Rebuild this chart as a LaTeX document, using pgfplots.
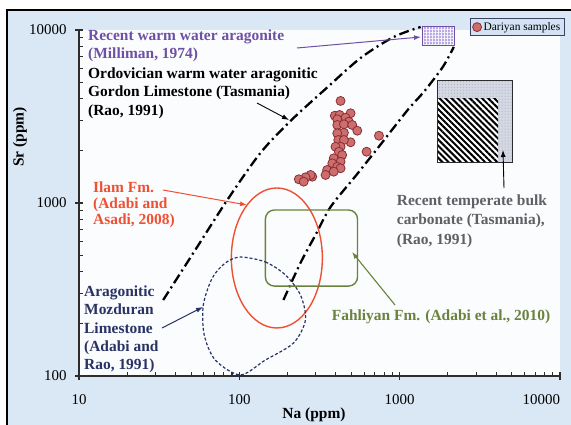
\documentclass[border=0pt]{standalone}
\usepackage{fontspec}
\setmainfont{Liberation Serif}
\usepackage{pgfplots}
\pgfplotsset{compat=1.18}
\usetikzlibrary{patterns,patterns.meta,arrows.meta}

\definecolor{bgblue}{RGB}{218,231,245}
\definecolor{panel}{RGB}{251,252,254}
\definecolor{axgray}{RGB}{45,45,45}
\definecolor{dotfill}{RGB}{205,110,110}
\definecolor{dotedge}{RGB}{140,45,50}
\definecolor{cpurple}{RGB}{110,80,165}
\definecolor{lavender}{RGB}{185,168,228}
\definecolor{cred}{RGB}{240,80,50}
\definecolor{cnavy}{RGB}{40,50,100}
\definecolor{colive}{RGB}{105,130,60}
\definecolor{cgray}{RGB}{95,95,100}
\definecolor{legfill}{RGB}{212,227,243}
\definecolor{legbd}{RGB}{60,65,95}
\definecolor{stip}{RGB}{212,215,228}

\pgfplotsset{dotleg/.style={legend image code/.code={\draw[##1] plot coordinates {(4bp,0bp)};}}}

\begin{document}
\begin{tikzpicture}
\path[use as bounding box] (0,0) rectangle (571bp,425bp);
\begin{scope}[x=1bp,y=-1bp,shift={(0,425bp)}]
  \fill[bgblue] (7,10) rectangle (571,425);
  \draw[line width=2.6bp] (7,425) -- (7,10) -- (571,10);
\end{scope}

\begin{axis}[
  at={(79bp,49bp)}, anchor=south west,
  scale only axis, width=481bp, height=346bp,
  xmode=log, ymode=log,
  xmin=10, xmax=10000, ymin=100, ymax=10000,
  axis x line*=bottom, axis y line*=left,
  xtick pos=bottom, ytick pos=left,
  axis line style={line width=1.6bp, draw=axgray, -},
  xtick={10,100,1000,10000},
  xticklabels={10,100,1000,\makebox[0pt][r]{10000}},
  ytick={100,1000,10000}, yticklabels={100,1000,10000},
  tick align=inside, major tick length=8bp, minor tick length=4bp,
  every tick/.style={line width=1.1bp, draw=axgray},
  every major x tick/.append style={yshift=-4bp},
  every major y tick/.append style={xshift=-4bp},
  ticklabel style={font=\fontsize{15}{18}\selectfont, text=black},
  xticklabel style={yshift=-15bp},
  yticklabel style={xshift=-9bp},
  axis background/.style={fill=panel},
  clip=false,
  legend cell align=left,
  legend style={at={(0.8129,1.0338)}, anchor=north west, draw=legbd,
    fill=legfill, line width=1.2bp, font=\fontsize{11.5}{13}\selectfont,
    inner xsep=2bp, inner ysep=1.5bp},
]

% Recent temperate bulk carbonate (Tasmania)
\fill[stip] (axis cs:1721,5093) rectangle (axis cs:5058,1718);
\fill[pattern=dots, pattern color=gray!70] (axis cs:1721,5093) rectangle (axis cs:5058,1718);
\fill[white] (axis cs:1721,4010) rectangle (axis cs:4111,1718);
\fill[pattern={Lines[angle=-45,distance=4.3bp,line width=2bp]}, pattern color=black]
  (axis cs:1721,4010) rectangle (axis cs:4111,1718);
\draw[line width=1.4bp, draw=axgray] (axis cs:1721,5093) rectangle (axis cs:5058,1718);

% Recent warm water aragonite (Milliman, 1974)
\fill[lavender] (axis cs:1387,10450) rectangle (axis cs:2207,8114);
\fill[pattern={Hatch[angle=0,distance=3bp,line width=0.6bp]}, pattern color=white!85!lavender]
  (axis cs:1387,10450) rectangle (axis cs:2207,8114);
\draw[line width=1.1bp, draw=cpurple] (axis cs:1387,10450) rectangle (axis cs:2207,8114);

% Ordovician Gordon Limestone envelope
\addplot[forget plot, smooth, black, line width=2.3bp,
  dash pattern=on 10bp off 4bp on 2bp off 4bp] coordinates {
  (33.5,275) (53.1,534.9) (84.1,1040.6) (135.3,1945) (208.3,2978)
  (344.7,4560) (570.5,6890) (917.4,9111) (1353,10408)};
\addplot[forget plot, smooth, black, line width=2.3bp,
  dash pattern=on 10bp off 4bp on 2bp off 4bp] coordinates {
  (188.4,275) (240.5,450) (298.5,653) (370.5,948) (530.9,1432)
  (739.3,2107) (1122,3449) (1413,4383) (1857,6111) (2175,7975)};

% Ilam Fm.
\draw[cred, line width=1.4bp] (axis cs:171.4,481) ellipse [x radius=45.5bp, y radius=70bp];

% Fahliyan Fm.
\draw[colive, line width=1.4bp, rounded corners=9bp]
  (axis cs:145.4,911) rectangle (axis cs:546,331);

% Aragonitic Mozduran Limestone
\addplot[forget plot, smooth cycle, cnavy, line width=1.2bp, dash pattern=on 3bp off 2bp]
  coordinates {(101.4,487) (145.4,456) (193.9,383.5) (240.5,294) (258.5,211)
  (217.5,155) (145.4,123.7) (101.4,101.4) (70.8,123.7) (60.4,172.6)
  (59.6,257) (67.8,368.6) (81.8,450)};

% Dariyan samples
\addplot[only marks, mark=*, mark size=4.5bp,
  mark options={fill=dotfill, draw=dotedge, line width=0.8bp}, dotleg]
  table {
x y
428 3890
394 3196
422 3228
494 3300
460 3114
408 3048
482 2951
408 2824
449 2850
506 2824
544 2618
449 2548
408 2528
494 2244
414 2313
449 2313
428 2115
398 2115
418 1979
438 1894
388 1813
428 1733
380 1696
408 1621
428 1587
353 1552
388 1517
345 1452
285 1419
278 1452
259 1408
235 1371
252 1328
622 1979
743 2449
};
\addlegendentry{Dariyan samples}
\end{axis}

\begin{scope}[x=1bp,y=-1bp,shift={(0,425bp)},
  every node/.style={inner sep=0pt, font=\bfseries\fontsize{15.5}{18}\selectfont}]
  % axis labels
  \node[rotate=90] at (20,137) {Sr (ppm)};
  \node at (314,415) {Na (ppm)};

  \node[anchor=base west, text=cpurple] at (88,41) {Recent warm water aragonite};
  \node[anchor=base west, text=cpurple] at (88,59) {(Milliman, 1974)};
  \draw[cpurple, line width=1bp, -{Latex[length=7bp,width=5bp]}] (297,48) -- (421,37);

  \node[anchor=base west] at (88,79) {Ordovician warm water aragonitic};
  \node[anchor=base west] at (88,97) {Gordon Limestone (Tasmania)};
  \node[anchor=base west] at (88,116) {(Rao, 1991)};
  \draw[black, line width=0.9bp, -{Latex[length=7bp,width=5bp]}] (257,103) -- (289,120);

  \node[anchor=base west, text=cred] at (93,193) {Ilam Fm.};
  \node[anchor=base west, text=cred] at (93,208.5) {(Adabi and};
  \node[anchor=base west, text=cred] at (93,224.5) {Asadi, 2008)};
  \draw[cred, line width=1bp, -{Latex[length=7bp,width=5bp]}] (163,190) -- (247,205);

  \node[anchor=base west, text=cnavy] at (84,297) {Aragonitic};
  \node[anchor=base west, text=cnavy] at (84,314.5) {Mozduran};
  \node[anchor=base west, text=cnavy] at (84,333.5) {Limestone};
  \node[anchor=base west, text=cnavy] at (84,352) {(Adabi and};
  \node[anchor=base west, text=cnavy] at (84,370) {Rao, 1991)};
  \draw[cnavy, line width=1bp, -{Latex[length=7bp,width=5bp]}] (162,328) -- (203,307);

  \node[anchor=base west, text=colive] at (331.7,321) {Fahliyan Fm. (Adabi et al., 2010)};
  \draw[colive, line width=1.1bp, -{Latex[length=7bp,width=5bp]}] (395,305) -- (352,252);

  \node[anchor=base west, text=cgray] at (396.7,206) {Recent temperate bulk};
  \node[anchor=base west, text=cgray] at (396.7,225) {carbonate (Tasmania),};
  \node[anchor=base west, text=cgray] at (396.7,245) {(Rao, 1991)};
  \draw[black, line width=0.9bp, -{Latex[length=7bp,width=5bp]}] (504,188) -- (503,150);
\end{scope}
\end{tikzpicture}
\end{document}
